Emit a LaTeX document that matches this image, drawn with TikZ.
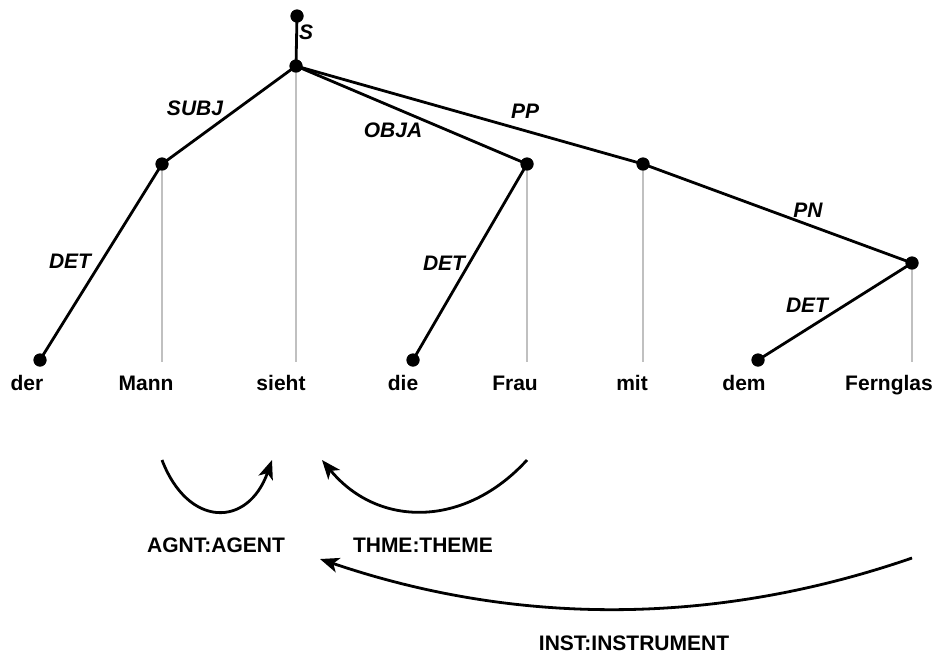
\documentclass[tikz,border=0pt]{standalone}
\usepackage{fontspec}
\setmainfont{Liberation Sans}
\usetikzlibrary{arrows.meta}
\definecolor{projgray}{RGB}{192,192,192}
\begin{document}
\begin{tikzpicture}[x=1pt,y=-1pt,
  dot/.style={circle,fill=black,inner sep=0pt,minimum size=13pt},
  dep/.style={line width=2.8pt,line cap=round},
  proj/.style={line width=2pt,draw=projgray},
  rel/.style={font=\fontsize{21}{25}\selectfont\bfseries\itshape,anchor=base,inner sep=0pt},
  word/.style={font=\fontsize{21}{25}\selectfont\bfseries,anchor=base,inner sep=0pt},
  role/.style={font=\fontsize{21}{25}\selectfont\bfseries,anchor=base,inner sep=0pt},
  sem/.style={line width=2.8pt,-{Stealth[length=19pt,width=15pt,inset=5pt]}}
]
\useasboundingbox (0,0) rectangle (939,657);

% tree nodes
\node[dot] (root)  at (297,16)  {};
\node[dot] (sieht) at (296,66)  {};
\node[dot] (mann)  at (162,164) {};
\node[dot] (der)   at (40,360)  {};
\node[dot] (frau)  at (527,164) {};
\node[dot] (die)   at (413,360) {};
\node[dot] (mit)   at (643,164) {};
\node[dot] (fern)  at (912,263) {};
\node[dot] (dem)   at (758,360) {};

% projection lines down to the words
\coordinate (base) at (0,362);
\draw[proj] (mann)  -- (mann  |- base);
\draw[proj] (sieht) -- (sieht |- base);
\draw[proj] (frau)  -- (frau  |- base);
\draw[proj] (mit)   -- (mit   |- base);
\draw[proj] (fern)  -- (fern  |- base);

% dependency edges
\draw[dep] (root.center)  -- (sieht.center);
\draw[dep] (sieht.center) -- (mann.center);
\draw[dep] (mann.center)  -- (der.center);
\draw[dep] (sieht.center) -- (frau.center);
\draw[dep] (frau.center)  -- (die.center);
\draw[dep] (sieht.center) -- (mit.center);
\draw[dep] (mit.center)   -- (fern.center);
\draw[dep] (fern.center)  -- (dem.center);

% redraw dots on top
\foreach \n in {root,sieht,mann,der,frau,die,mit,fern,dem}
  \fill (\n) circle (6.5pt);

% edge labels
\node[rel] (lS)    at (306,39)  {S};
\node[rel] (lSUBJ) at (195,115) {SUBJ};
\node[rel] (lOBJA) at (393,137) {OBJA};
\node[rel] (lPP)   at (525,118) {PP};
\node[rel] (lDET1) at (70,268)  {DET};
\node[rel] (lDET2) at (444,270) {DET};
\node[rel] (lPN)   at (808,217) {PN};
\node[rel] (lDET3) at (807,312) {DET};

% words
\node[word] (wder)   at (27,390)  {der};
\node[word] (wmann)  at (146,390) {Mann};
\node[word] (wsieht) at (281,390) {sieht};
\node[word] (wdie)   at (403,390) {die};
\node[word] (wfrau)  at (515,390) {Frau};
\node[word] (wmit)   at (632,390) {mit};
\node[word] (wdem)   at (744,390) {dem};
\node[word] (wfern)  at (889,390) {Fernglas};

% semantic role arrows
\coordinate (a1) at (162,460);
\coordinate (a2) at (272,460);
\coordinate (t1) at (527,460);
\coordinate (t2) at (322,460);
\coordinate (i1) at (912,558);
\coordinate (i2) at (320,559);
\draw[sem] (a1) .. controls (188,528) and (248,528) .. (a2);
\draw[sem] (t1) .. controls (465,528) and (378,528) .. (t2);
\draw[sem] (i1) .. controls (715,626) and (517,626) .. (i2);

\node[role] (ragnt) at (216,552) {AGNT:AGENT};
\node[role] (rthme) at (423,552) {THME:THEME};
\node[role] (rinst) at (634,650) {INST:INSTRUMENT};
\end{tikzpicture}
\end{document}
